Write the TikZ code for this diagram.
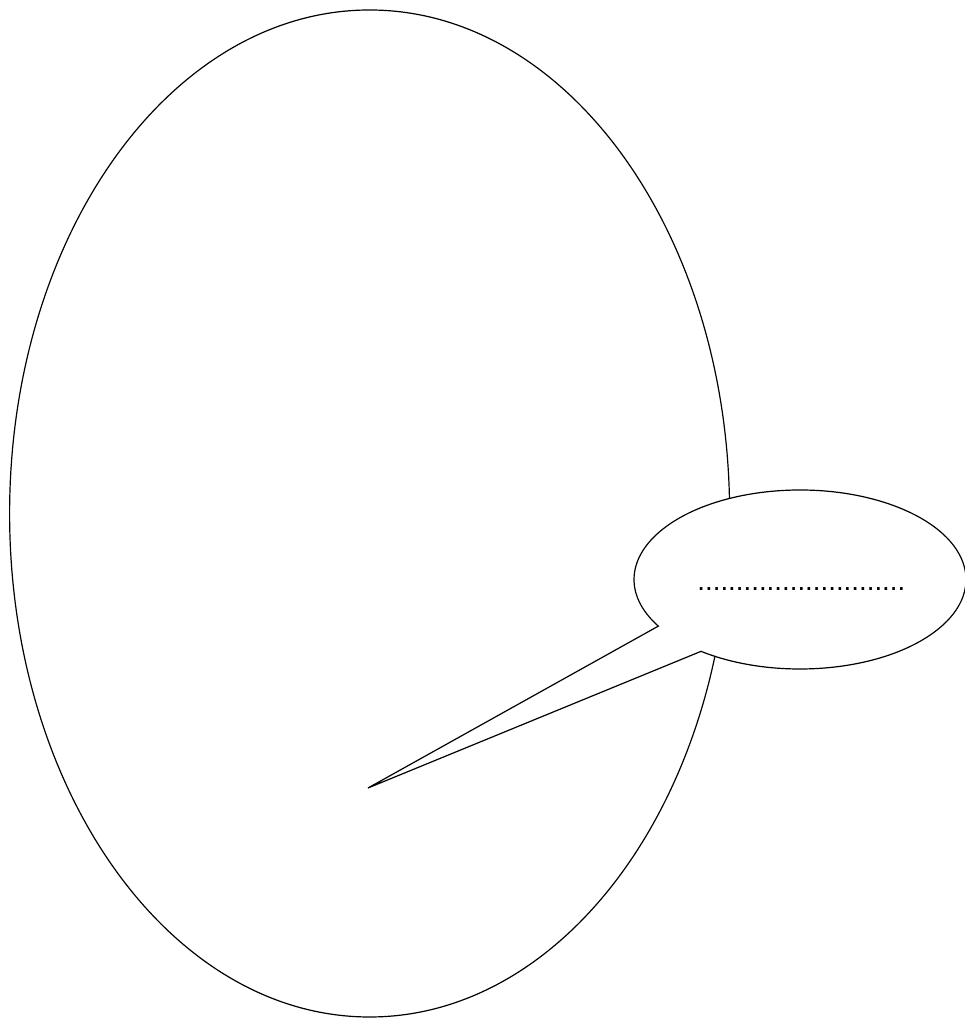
\documentclass[tikz,border=0pt]{standalone}
\usepackage{fontspec}
\setmainfont{Liberation Sans}
\usetikzlibrary{calc}
\begin{document}
\begin{tikzpicture}[x=1pt,y=1pt,
  outline/.style={draw=black,line width=1.2pt,line join=miter},
  dotstext/.style={inner sep=0pt,anchor=base west,font=\fontsize{27.7pt}{30pt}\selectfont}]
\useasboundingbox (0,0) rectangle (965,1019);
% big ellipse
\coordinate (bigc) at (369.6,505.5);
\draw[outline] (bigc) ellipse[x radius=360pt, y radius=503.5pt];
% callout
\coordinate (smc) at (800,439.5);
\coordinate (tip) at (368,231);
\coordinate (base2) at ($(smc)+(233.4:166pt and 89.5pt)$);
\filldraw[outline,fill=white] (base2) arc[start angle=233.4, end angle=571.4, x radius=166pt, y radius=89.5pt] -- (tip) -- cycle;
\node[dotstext] (dots) at (697.2,428.7) {...........................};
\end{tikzpicture}
\end{document}
